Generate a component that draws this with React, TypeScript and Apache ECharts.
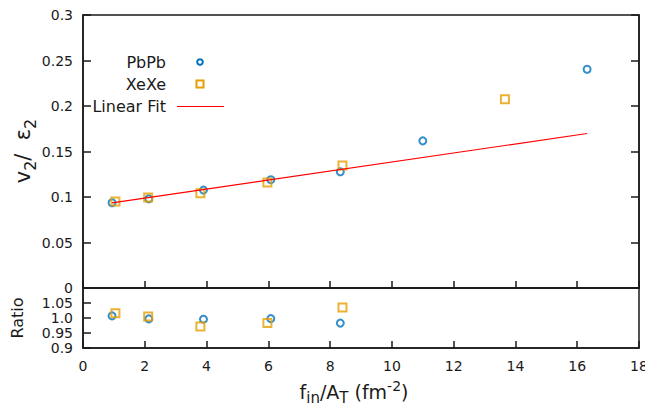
import React, { useEffect, useRef } from 'react';
import * as echarts from 'echarts';

const pbX = [0.94, 2.13, 3.9, 6.08, 8.33, 11.0, 16.32];
const pbY = [0.0937, 0.098, 0.1076, 0.119, 0.1277, 0.1617, 0.2404];
const xeX = [1.05, 2.11, 3.8, 5.97, 8.4, 13.66];
const xeY = [0.0951, 0.0995, 0.104, 0.116, 0.1347, 0.2075];
const pbRatioX = [0.94, 2.13, 3.9, 6.08, 8.33];
const pbRatio = [1.007, 0.997, 0.996, 0.998, 0.983];
const xeRatioX = [1.05, 2.11, 3.8, 5.97, 8.4];
const xeRatio = [1.016, 1.005, 0.972, 0.983, 1.035];
const fitX = [0.94, 16.32];
const fitY = [0.0936, 0.1698];

const BLUE = '#0072bd';
const ORANGE = '#e69f00';
const INK = '#1a1a1a';
const FONT = 'DejaVu Sans';

const zip = (a: number[], b: number[]) => a.map((v, i) => [v, b[i]]);

export default function App() {
  const ref = useRef<HTMLDivElement>(null);
  useEffect(() => {
    const chart = echarts.init(ref.current!, null, { renderer: 'svg' });
    const tick = { show: true, inside: true, length: 7, lineStyle: { color: INK, width: 1.5 } };
    const line = { show: true, lineStyle: { color: INK, width: 1.5 } };
    const lbl = { fontFamily: FONT, fontSize: 14, color: INK };
    const round = (v: number) => Math.round(v * 1000) / 1000;
    chart.setOption({
      animation: false,
      textStyle: { fontFamily: FONT },
      grid: [
        { left: 83, top: 15, width: 556, height: 273, show: true, borderColor: INK, borderWidth: 1.5, outerBoundsMode: 'none' },
        { left: 83, top: 288, width: 556, height: 60, show: true, borderColor: INK, borderWidth: 1.5, outerBoundsMode: 'none' },
      ],
      xAxis: [
        { gridIndex: 0, type: 'value', min: 0, max: 18, interval: 2, axisLine: line, axisTick: tick, axisLabel: { show: false }, splitLine: { show: false } },
        { gridIndex: 1, type: 'value', min: 0, max: 18, interval: 2, axisLine: line, axisTick: tick, axisLabel: { ...lbl, margin: 11, alignMaxLabel: 'center', alignMinLabel: 'center' }, splitLine: { show: false } },
      ],
      yAxis: [
        { gridIndex: 0, type: 'value', min: 0, max: 0.3, interval: 0.05, axisLine: line, axisTick: { ...tick, length: 8 }, axisLabel: { ...lbl, margin: 10, formatter: (v: number) => String(round(v)) }, splitLine: { show: false } },
        { gridIndex: 0, type: 'value', position: 'right', min: 0, max: 0.3, interval: 0.05, axisLine: line, axisTick: { ...tick, length: 8 }, axisLabel: { show: false }, splitLine: { show: false } },
        { gridIndex: 1, type: 'value', min: 0.9, max: 1.1, interval: 0.05, axisLine: line, axisTick: { ...tick, length: 8 }, axisLabel: { ...lbl, margin: 10, showMaxLabel: false, formatter: (v: number) => { const r = round(v); if (r >= 1.1) return ''; return r === 1 ? '1.0' : String(r); } }, splitLine: { show: false } },
      ],
      series: [
        { type: 'scatter', name: 'PbPb', xAxisIndex: 0, yAxisIndex: 0, data: zip(pbX, pbY), symbol: 'circle', symbolSize: 7, itemStyle: { color: 'rgba(0,0,0,0)', borderColor: BLUE, borderWidth: 2 }, z: 3 },
        { type: 'scatter', name: 'XeXe', xAxisIndex: 0, yAxisIndex: 0, data: zip(xeX, xeY), symbol: 'rect', symbolSize: 8, itemStyle: { color: 'rgba(0,0,0,0)', borderColor: ORANGE, borderWidth: 2 }, z: 4 },
        { type: 'line', name: 'Linear Fit', xAxisIndex: 0, yAxisIndex: 0, data: zip(fitX, fitY), showSymbol: false, symbol: 'none', lineStyle: { color: '#ff0000', width: 1.2 }, z: 5 },
        { type: 'scatter', xAxisIndex: 1, yAxisIndex: 2, data: zip(pbRatioX, pbRatio), symbol: 'circle', symbolSize: 7, itemStyle: { color: 'rgba(0,0,0,0)', borderColor: BLUE, borderWidth: 2 }, z: 3 },
        { type: 'scatter', xAxisIndex: 1, yAxisIndex: 2, data: zip(xeRatioX, xeRatio), symbol: 'rect', symbolSize: 8, itemStyle: { color: 'rgba(0,0,0,0)', borderColor: ORANGE, borderWidth: 2 }, z: 4 },
      ],
      graphic: [
        { type: 'text', x: 166, y: 62, style: { text: 'PbPb', font: `16px "${FONT}"`, fill: INK, align: 'right', verticalAlign: 'middle' } },
        { type: 'circle', shape: { cx: 200, cy: 62, r: 2.8 }, style: { fill: 'none', stroke: BLUE, lineWidth: 2 } },
        { type: 'text', x: 166, y: 84, style: { text: 'XeXe', font: `16px "${FONT}"`, fill: INK, align: 'right', verticalAlign: 'middle' } },
        { type: 'rect', shape: { x: 196.5, y: 80.5, width: 7, height: 7 }, style: { fill: 'none', stroke: ORANGE, lineWidth: 2 } },
        { type: 'text', x: 166, y: 106, style: { text: 'Linear Fit', font: `16px "${FONT}"`, fill: INK, align: 'right', verticalAlign: 'middle' } },
        { type: 'line', shape: { x1: 177, y1: 106.5, x2: 224, y2: 106.5 }, style: { stroke: '#ff0000', lineWidth: 1.2 } },
        {
          type: 'text', x: 23, y: 151, rotation: Math.PI / 2,
          style: {
            text: '{b|v}{s|2}{b|/  ε}{s|2}', align: 'center', verticalAlign: 'middle', fill: INK,
            rich: {
              b: { fontFamily: FONT, fontSize: 21, lineHeight: 30, fill: INK },
              s: { fontFamily: FONT, fontSize: 16, lineHeight: 16, verticalAlign: 'bottom', fill: INK },
            },
          },
        },
        { type: 'text', x: 17, y: 318, rotation: Math.PI / 2, style: { text: 'Ratio', font: `16px "${FONT}"`, fill: INK, align: 'center', verticalAlign: 'middle' } },
        {
          type: 'text', x: 354, y: 392,
          style: {
            text: '{b|f}{s|in}{b|/A}{s|T}{b| (fm}{p|-2}{b|)}', align: 'center', verticalAlign: 'middle', fill: INK,
            rich: {
              b: { fontFamily: FONT, fontSize: 19, lineHeight: 27, fill: INK },
              s: { fontFamily: FONT, fontSize: 15, lineHeight: 15, verticalAlign: 'bottom', fill: INK },
              p: { fontFamily: FONT, fontSize: 14, lineHeight: 14, verticalAlign: 'top', fill: INK },
            },
          },
        },
      ],
    });
    return () => chart.dispose();
  }, []);
  return <div ref={ref} style={{ position: 'fixed', left: 0, top: 0, width: 645, height: 407, background: '#fff' }} />;
}
